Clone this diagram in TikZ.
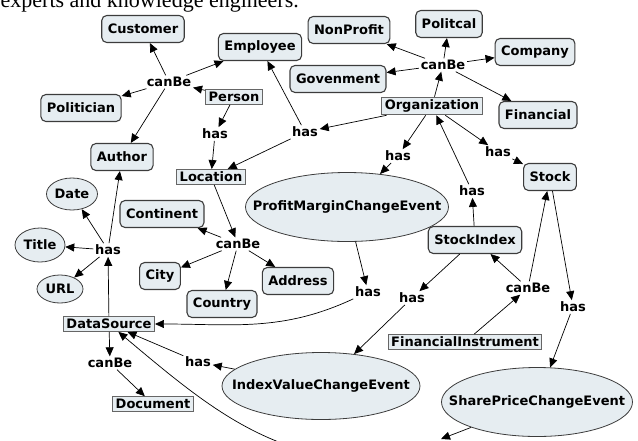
\documentclass[tikz,border=0pt]{standalone}
\usepackage{fontspec}
\setmainfont{DejaVu Sans}
\newfontfamily\bodyfont{Liberation Serif}
\usetikzlibrary{shapes.geometric, arrows.meta, positioning}
\definecolor{conceptfill}{HTML}{E6EDF1}
\definecolor{conceptline}{HTML}{3C3C3C}

\begin{document}
\begin{tikzpicture}[x=1pt, y=-1pt,
        font=\fontsize{13}{15}\selectfont\bfseries,
        >={Triangle[length=9pt, width=8pt]},
        line width=0.7pt,
        concept/.style={draw=conceptline, fill=conceptfill, rounded corners=5pt, line width=1.1pt, inner xsep=6pt, minimum height=27pt},
        term/.style={draw=gray!80!black, fill=conceptfill, line width=0.9pt, inner xsep=3pt, inner ysep=2.5pt},
        event/.style={ellipse, draw=conceptline, fill=conceptfill, line width=0.8pt, inner xsep=-40pt, inner ysep=0pt},
        link/.style={inner sep=1.5pt}]
    \useasboundingbox (0,0) rectangle (638,440);
    \node[font=\bodyfont\fontsize{22}{24}\selectfont, anchor=base west] (caption) at (-3,7) {experts and knowledge engineers.};

    \node[concept] (Customer) at (143,29) {Customer};
    \node[concept] (Employee) at (260,47) {Employee};
    \node[concept] (NonProfit) at (349,30) {NonProfit};
    \node[concept] (Politcal) at (449,24) {Politcal};
    \node[concept] (Company) at (535,52) {Company};
    \node[concept] (Govenment) at (338,79) {Govenment};
    \node[concept] (Financial) at (538,115) {Financial};
    \node[concept] (Politician) at (81,108) {Politician};
    \node[concept] (Author) at (122,157) {Author};
    \node[concept] (Stock) at (550,177) {Stock};
    \node[concept] (Continent) at (162,214) {Continent};
    \node[concept] (City) at (160,276) {City};
    \node[concept] (Country) at (222,304) {Country};
    \node[concept] (Address) at (298,281) {Address};
    \node[concept] (StockIndex) at (475,240) {StockIndex};

    \node[term] (Person) at (234,97) {Person};
    \node[term] (Organization) at (432,106) {Organization};
    \node[term] (Location) at (211,177) {Location};
    \node[term] (DataSource) at (109,324) {DataSource};
    \node[term] (FinInstr) at (465,342) {FinancialInstrument};
    \node[term] (Document) at (153,404) {Document};

    \node[event, minimum width=203pt, minimum height=69pt] (ProfitEvent) at (347,207) {ProfitMarginChangeEvent};
    \node[event, minimum width=198pt, minimum height=67pt] (IndexEvent) at (321,386) {IndexValueChangeEvent};
    \node[event, minimum width=191pt, minimum height=69pt] (ShareEvent) at (537,402) {SharePriceChangeEvent};
    \node[event, minimum width=51pt, minimum height=32pt] (Date) at (72,194) {Date};
    \node[event, minimum width=50pt, minimum height=34pt] (Title) at (40,245) {Title};
    \node[event, minimum width=46pt, minimum height=28pt] (URL) at (60,289) {URL};

    \node[link] (canP) at (169,82) {canBe};
    \node[link] (canO) at (443,65) {canBe};
    \node[link] (canL) at (238,244) {canBe};
    \node[link] (canFI) at (528,288) {canBe};
    \node[link] (canDS) at (110,363) {canBe};
    \node[link] (hasP) at (215,134) {has};
    \node[link] (hasO) at (305,132) {has};
    \node[link] (hasPM) at (398,156) {has};
    \node[link] (hasSt) at (498,152) {has};
    \node[link] (hasSI) at (472,191) {has};
    \node[link] (hasDS) at (108,250) {has};
    \node[link] (hasPD) at (368,292) {has};
    \node[link] (hasIV) at (412,298) {has};
    \node[link] (hasSP) at (573,307) {has};
    \node[link] (hasIVD) at (198,362) {has};
    \coordinate (hidA) at (441,439);
    \coordinate (hidB) at (390,462);

    \draw[->]
        (Person) edge (canP)
        (canP) edge (Customer)
        (canP) edge (Employee)
        (canP) edge (Politician)
        (canP) edge (Author)
        (Person) edge (hasP)
        (hasP) edge (Location)
        (Organization) edge (hasO)
        (hasO) edge (Employee)
        (hasO) edge (Location)
        (Organization) edge (canO)
        (canO) edge (NonProfit)
        (canO) edge (Politcal)
        (canO) edge (Company)
        (canO) edge (Govenment)
        (canO) edge (Financial)
        (Organization) edge (hasPM)
        (hasPM) edge (ProfitEvent)
        (Organization) edge (hasSt)
        (hasSt) edge (Stock)
        (StockIndex) edge (hasSI)
        (hasSI) edge (Organization)
        (Stock) edge (hasSP)
        (hasSP) edge (ShareEvent)
        (FinInstr) edge (canFI)
        (canFI) edge (Stock)
        (canFI) edge (StockIndex)
        (StockIndex) edge (hasIV)
        (hasIV) edge (IndexEvent)
        (ProfitEvent) edge (hasPD)
        (IndexEvent) edge (hasIVD)
        (hasIVD) edge (DataSource)
        (DataSource) edge (hasDS)
        (hasDS) edge (Author)
        (hasDS) edge (Date)
        (hasDS) edge (Title)
        (hasDS) edge (URL)
        (DataSource) edge (canDS)
        (canDS) edge (Document)
        (Location) edge (canL)
        (canL) edge (Continent)
        (canL) edge (City)
        (canL) edge (Country)
        (canL) edge (Address)
        (ShareEvent) edge (hidA);
    \draw[->] (hasPD) to[out=205, in=0] (DataSource);
    \draw[->] (hidB) to[out=180, in=-40] (DataSource);
\end{tikzpicture}
\end{document}
